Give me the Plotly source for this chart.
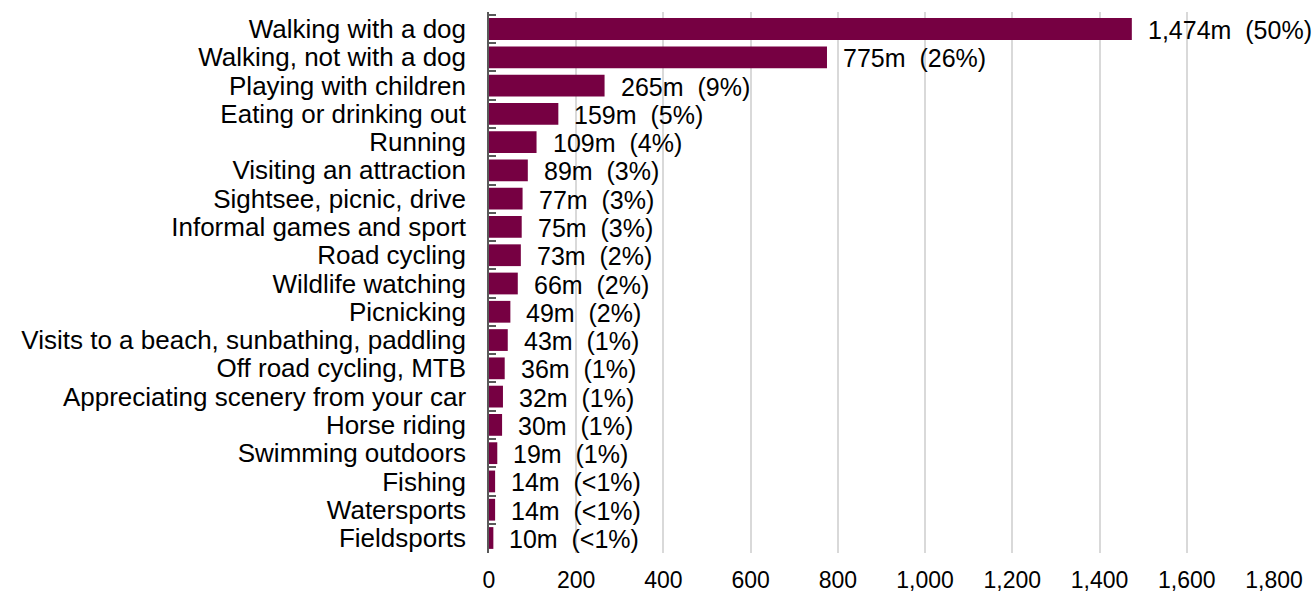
import plotly.graph_objects as go

# Time spent on each outdoor activity (millions of hours) and share of total
activities = [
    "Walking with a dog",
    "Walking, not with a dog",
    "Playing with children",
    "Eating or drinking out",
    "Running",
    "Visiting an attraction",
    "Sightsee, picnic, drive",
    "Informal games and sport",
    "Road cycling",
    "Wildlife watching",
    "Picnicking",
    "Visits to a beach, sunbathing, paddling",
    "Off road cycling, MTB",
    "Appreciating scenery from your car",
    "Horse riding",
    "Swimming outdoors",
    "Fishing",
    "Watersports",
    "Fieldsports",
]
hours_m = [1474, 775, 265, 159, 109, 89, 77, 75, 73, 66, 49, 43, 36, 32, 30, 19, 14, 14, 10]
shares = ["50%", "26%", "9%", "5%", "4%", "3%", "3%", "3%", "2%", "2%",
          "2%", "1%", "1%", "1%", "1%", "1%", "<1%", "<1%", "<1%"]
x_ticks = [0, 200, 400, 600, 800, 1000, 1200, 1400, 1600, 1800]

BAR_COLOR = "#760042"
FONT = "Liberation Sans, Arial, sans-serif"

fig = go.Figure(
    go.Bar(
        x=hours_m,
        y=activities,
        orientation="h",
        marker=dict(color=BAR_COLOR, line=dict(width=0)),
        hoverinfo="skip",
    )
)

# value labels to the right of each bar
for act, v, s in zip(activities, hours_m, shares):
    fig.add_annotation(
        x=v, y=act, xref="x", yref="y",
        text=f"{v:,}m\u00a0\u00a0({s})",
        showarrow=False, xanchor="left", xshift=14, yshift=-1,
        font=dict(family=FONT, size=25, color="#000000"),
    )

fig.update_layout(
    width=1315, height=594,
    margin=dict(l=489, r=41, t=12, b=41),
    paper_bgcolor="white", plot_bgcolor="white",
    bargap=0.23,
    showlegend=False,
    font=dict(family=FONT, size=24, color="#000000"),
)
fig.update_xaxes(
    range=[0, 1800],
    tickvals=x_ticks,
    ticktext=[f"{t:,}" for t in x_ticks],
    showgrid=True, gridcolor="#d9d9d9", gridwidth=1.5,
    zeroline=False, showline=False,
    ticks="outside", ticklen=6, tickcolor="rgba(0,0,0,0)",
    automargin=False,
    tickfont=dict(family=FONT, size=23, color="#000000"),
)
fig.update_yaxes(
    autorange="reversed",
    tickmode="array", tickvals=activities, ticktext=activities,
    showline=True, linecolor="#595959", linewidth=1.5,
    ticks="inside", ticklen=7, tickcolor="#595959", tickwidth=1.5,
    tickson="boundaries",
    ticklabelstandoff=16,
    showgrid=False,
    automargin=False,
    tickfont=dict(family=FONT, size=26, color="#000000"),
)

fig.write_html("out.html")
